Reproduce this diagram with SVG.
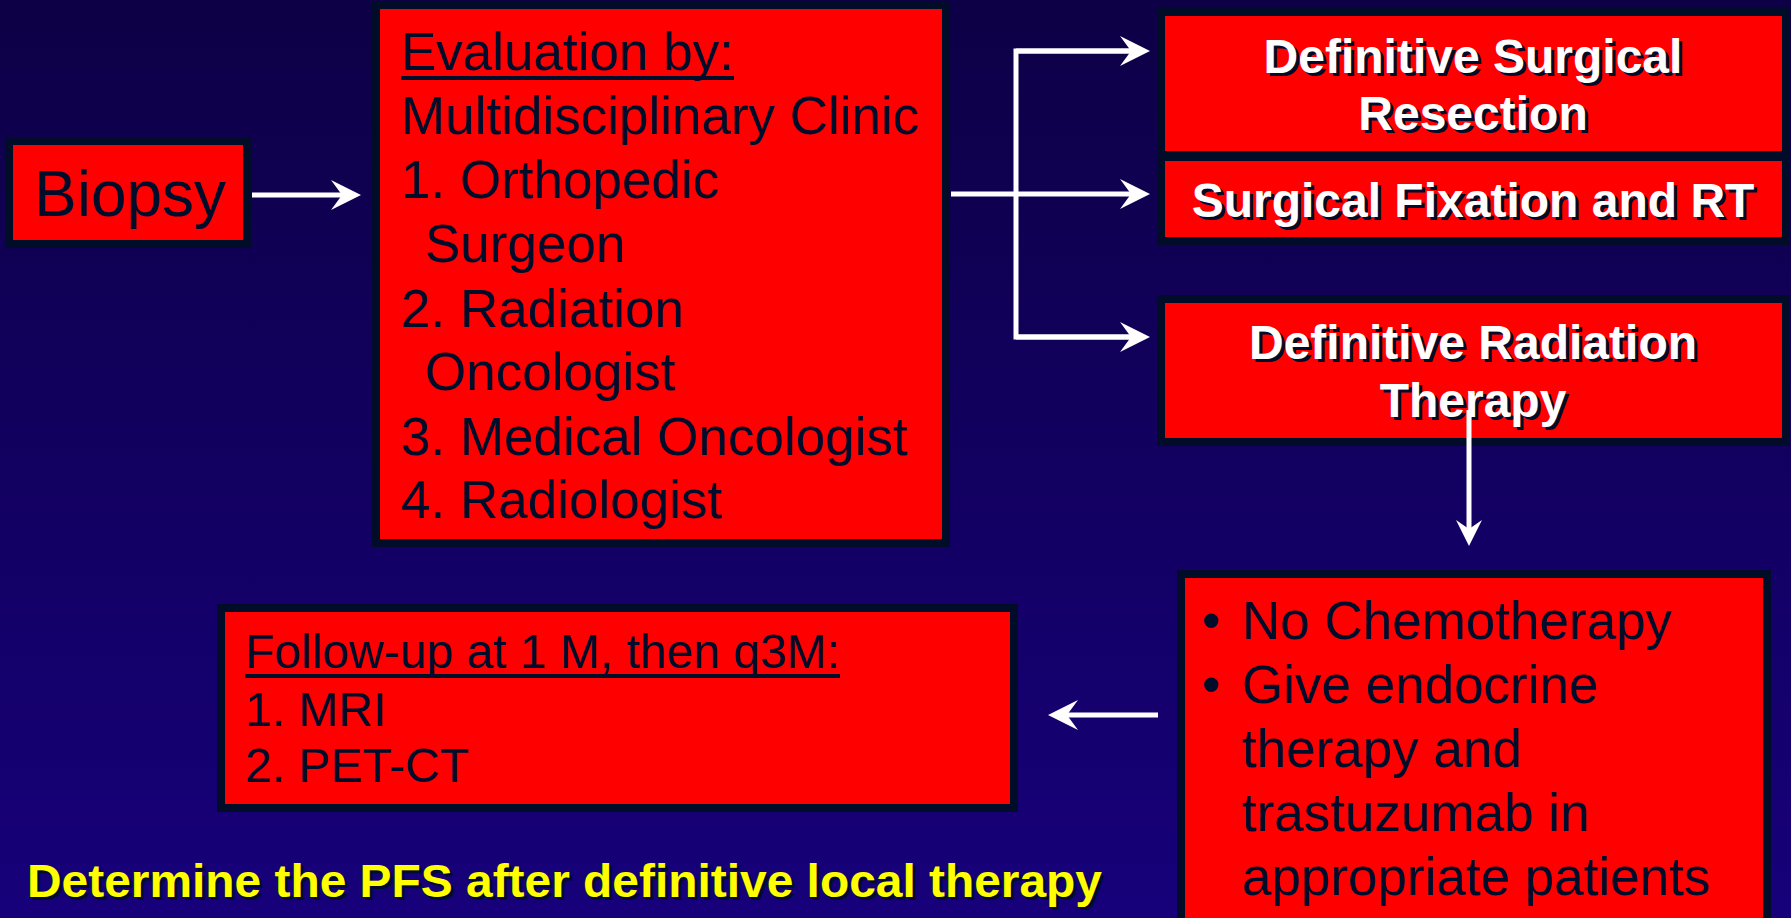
<svg xmlns="http://www.w3.org/2000/svg" width="1791" height="918" viewBox="0 0 1791 918">
<defs>
<linearGradient id="bg" x1="0" y1="0" x2="0" y2="1">
<stop offset="0" stop-color="#0e0046"/>
<stop offset="1" stop-color="#17007a"/>
</linearGradient>
<marker id="ah" viewBox="-16 -16 34 32" refX="0" refY="0" markerWidth="34" markerHeight="32" markerUnits="userSpaceOnUse" orient="auto">
<path d="M16,0 L-14,-15 L-3,0 L-14,15 Z" fill="#ffffff"/>
</marker>
<marker id="ahs" viewBox="-14 -14 30 28" refX="0" refY="0" markerWidth="30" markerHeight="28" markerUnits="userSpaceOnUse" orient="auto">
<path d="M14,0 L-12,-13 L-3,0 L-12,13 Z" fill="#ffffff"/>
</marker>
<style>
.box{fill:#ff0000;stroke:#000c28;stroke-width:8}
.dk{font-family:"Liberation Sans",Arial,sans-serif;fill:#000c2a}
.uline{fill:#000c2a}
.wb{font-family:"Liberation Sans",Arial,sans-serif;font-weight:bold;fill:#ffffff;text-anchor:middle;font-size:48px}
.sh{font-family:"Liberation Sans",Arial,sans-serif;font-weight:bold;fill:#000c2a;text-anchor:middle;font-size:48px}
.ln{stroke:#ffffff;stroke-width:5;fill:none}
</style>
</defs>
<rect x="0" y="0" width="1791" height="918" fill="url(#bg)"/>

<g id="biopsy">
<rect class="box" x="9" y="141" width="238" height="103"/>
<text class="dk" x="34" y="216" font-size="64">Biopsy</text>
</g>

<g id="evaluation">
<rect class="box" x="376" y="5" width="570" height="538"/>
<g class="dk" font-size="53">
<text x="401" y="70">Evaluation by:</text>
<text x="401" y="134">Multidisciplinary Clinic</text>
<text x="401" y="198">1. Orthopedic</text>
<text x="425" y="262">Surgeon</text>
<text x="401" y="327">2. Radiation</text>
<text x="425" y="390">Oncologist</text>
<text x="401" y="455">3. Medical Oncologist</text>
<text x="401" y="518">4. Radiologist</text>
</g>
<rect class="uline" x="401" y="76" width="333" height="4"/>
</g>

<g id="surgical-resection">
<rect class="box" x="1161" y="12" width="625" height="143"/>
<text class="sh" x="1476" y="76">Definitive Surgical</text>
<text class="wb" x="1473" y="73">Definitive Surgical</text>
<text class="sh" x="1476" y="133">Resection</text>
<text class="wb" x="1473" y="130">Resection</text>
</g>

<g id="fixation-rt">
<rect class="box" x="1161" y="157" width="625" height="84"/>
<text class="sh" x="1476" y="220">Surgical Fixation and RT</text>
<text class="wb" x="1473" y="217">Surgical Fixation and RT</text>
</g>

<g id="radiation-therapy">
<rect class="box" x="1161" y="299" width="625" height="143"/>
<text class="sh" x="1476" y="362">Definitive Radiation</text>
<text class="wb" x="1473" y="359">Definitive Radiation</text>
<text class="sh" x="1476" y="420">Therapy</text>
<text class="wb" x="1473" y="417">Therapy</text>
</g>

<g id="systemic">
<rect class="box" x="1181" y="574" width="586" height="360"/>
<g class="dk" font-size="53">
<text x="1202" y="639">•</text>
<text x="1242" y="639">No Chemotherapy</text>
<text x="1202" y="703">•</text>
<text x="1242" y="703">Give endocrine</text>
<text x="1242" y="767">therapy and</text>
<text x="1242" y="831">trastuzumab in</text>
<text x="1242" y="895">appropriate patients</text>
</g>
</g>

<g id="followup">
<rect class="box" x="221" y="608" width="793" height="200"/>
<g class="dk" font-size="48">
<text x="245" y="668">Follow-up at 1 M, then q3M:</text>
<text x="245" y="726">1. MRI</text>
<text x="245" y="782">2. PET-CT</text>
</g>
<rect class="uline" x="245" y="674" width="595" height="4"/>
</g>

<g id="pfs-note">
<text x="30" y="900" font-family="Liberation Sans, Arial, sans-serif" font-weight="bold" font-size="46" fill="#000c2a" textLength="1075" lengthAdjust="spacingAndGlyphs">Determine the PFS after definitive local therapy</text>
<text x="27" y="897" font-family="Liberation Sans, Arial, sans-serif" font-weight="bold" font-size="46" fill="#ffff00" textLength="1075" lengthAdjust="spacingAndGlyphs">Determine the PFS after definitive local therapy</text>
</g>

<g id="connectors">
<line class="ln" x1="252" y1="195" x2="345" y2="195" marker-end="url(#ah)"/>
<line class="ln" x1="951" y1="194" x2="1134" y2="194" stroke-width="6" marker-end="url(#ah)"/>
<polyline class="ln" points="1134,51 1016,51 1016,337 1134,337"/>
<line class="ln" x1="1016" y1="51" x2="1134" y2="51" marker-end="url(#ah)"/>
<line class="ln" x1="1016" y1="337" x2="1134" y2="337" marker-end="url(#ah)"/>
<line class="ln" x1="1469" y1="410" x2="1469" y2="532" stroke-width="3" marker-end="url(#ahs)"/>
<line class="ln" x1="1158" y1="715" x2="1064" y2="715" marker-end="url(#ah)"/>
</g>
</svg>
